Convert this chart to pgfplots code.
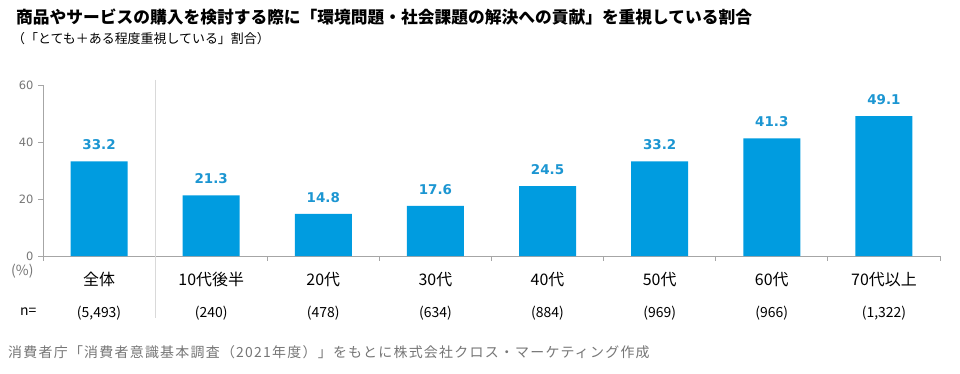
\documentclass[border=0pt]{standalone}
\usepackage{fontspec}
\usepackage{pgfplots}
\pgfplotsset{compat=1.18}
\setmainfont{Noto Sans CJK JP}
\newfontfamily\dejavu{DejaVu Sans}
\newfontfamily\footfont[LetterSpace=9]{Noto Sans CJK JP}
\definecolor{barblue}{RGB}{0,156,224}
\definecolor{lblblue}{RGB}{28,150,210}
\definecolor{axgray}{RGB}{166,166,166}
\definecolor{txtgray}{RGB}{118,118,118}
\definecolor{sepgray}{RGB}{217,217,217}
\begin{document}
\begin{tikzpicture}
\useasboundingbox (0,0) rectangle (960bp,374bp);
\fill[white] (0,0) rectangle (960bp,374bp);
\begin{axis}[
  at={(43bp,118bp)}, anchor=south west,
  scale only axis, width=897bp, height=171bp,
  xmin=-0.5, xmax=7.5, ymin=0, ymax=60,
  axis x line*=bottom, axis y line*=left,
  axis line style={draw=axgray, line width=0.8bp},
  tick style={draw=axgray, line width=0.8bp},
  tick align=outside,
  major tick length=0pt, minor tick length=4.5bp,
  xtick={0,...,7},
  xticklabels={全体,10代後半,20代,30代,40代,50代,60代,70代以上},
  xticklabel style={font=\fontsize{16}{18}\selectfont, text=black, anchor=base, yshift=-29bp},
  minor xtick={-0.5,0.5,...,7.5},
  extra x ticks={0,...,7},
  extra x tick labels={(5,493),(240),(478),(634),(884),(969),(966),(1,322)},
  extra x tick style={xticklabel style={font=\fontsize{14}{16}\selectfont, text=black, anchor=base, yshift=-32bp}},
  ytick={0,20,40,60},
  minor ytick={0,20,40,60},
  yticklabel style={font=\dejavu\fontsize{11.5}{13}\selectfont, text=txtgray, xshift=-6bp},
  /pgf/number format/assume math mode=true,
  clip=false,
  ybar, bar width=57bp,
  nodes near coords={\pgfmathprintnumber[fixed,fixed zerofill,precision=1,assume math mode=true]{\pgfplotspointmeta}},
  every node near coord/.append style={font=\dejavu\bfseries\fontsize{13.5}{15}\selectfont, text=lblblue, anchor=south, inner sep=0pt, yshift=11bp},
]
\addplot[fill=barblue, draw=none] coordinates {(0,33.2) (1,21.3) (2,14.8) (3,17.6) (4,24.5) (5,33.2) (6,41.3) (7,49.1)};
\coordinate (sep) at (axis cs:0.5,0);
\end{axis}
\draw[sepgray, line width=1bp] (sep |- 0,294bp) -- (sep |- 0,56bp);
\node[anchor=base west, inner sep=0pt, font=\bfseries\fontsize{16.8}{18}\selectfont] at (16bp,350bp) {商品やサービスの購入を検討する際に「環境問題・社会課題の解決への貢献」を重視している割合};
\node[anchor=base west, inner sep=0pt, font=\fontsize{13}{15}\selectfont] at (12bp,330bp) {（「とても＋ある程度重視している」割合）};
\node[anchor=base west, inner sep=0pt, font=\fontsize{14}{16}\selectfont, text=txtgray] at (11bp,98bp) {(\%)};
\node[anchor=base west, inner sep=0pt, font=\fontsize{14}{16}\selectfont] at (20bp,58bp) {n=};
\node[anchor=base west, inner sep=0pt, font=\footfont\fontsize{14}{16}\selectfont, text=txtgray] at (8bp,17bp) {消費者庁「消費者意識基本調査（2021年度）」をもとに株式会社クロス・マーケティング作成};
\end{tikzpicture}
\end{document}
